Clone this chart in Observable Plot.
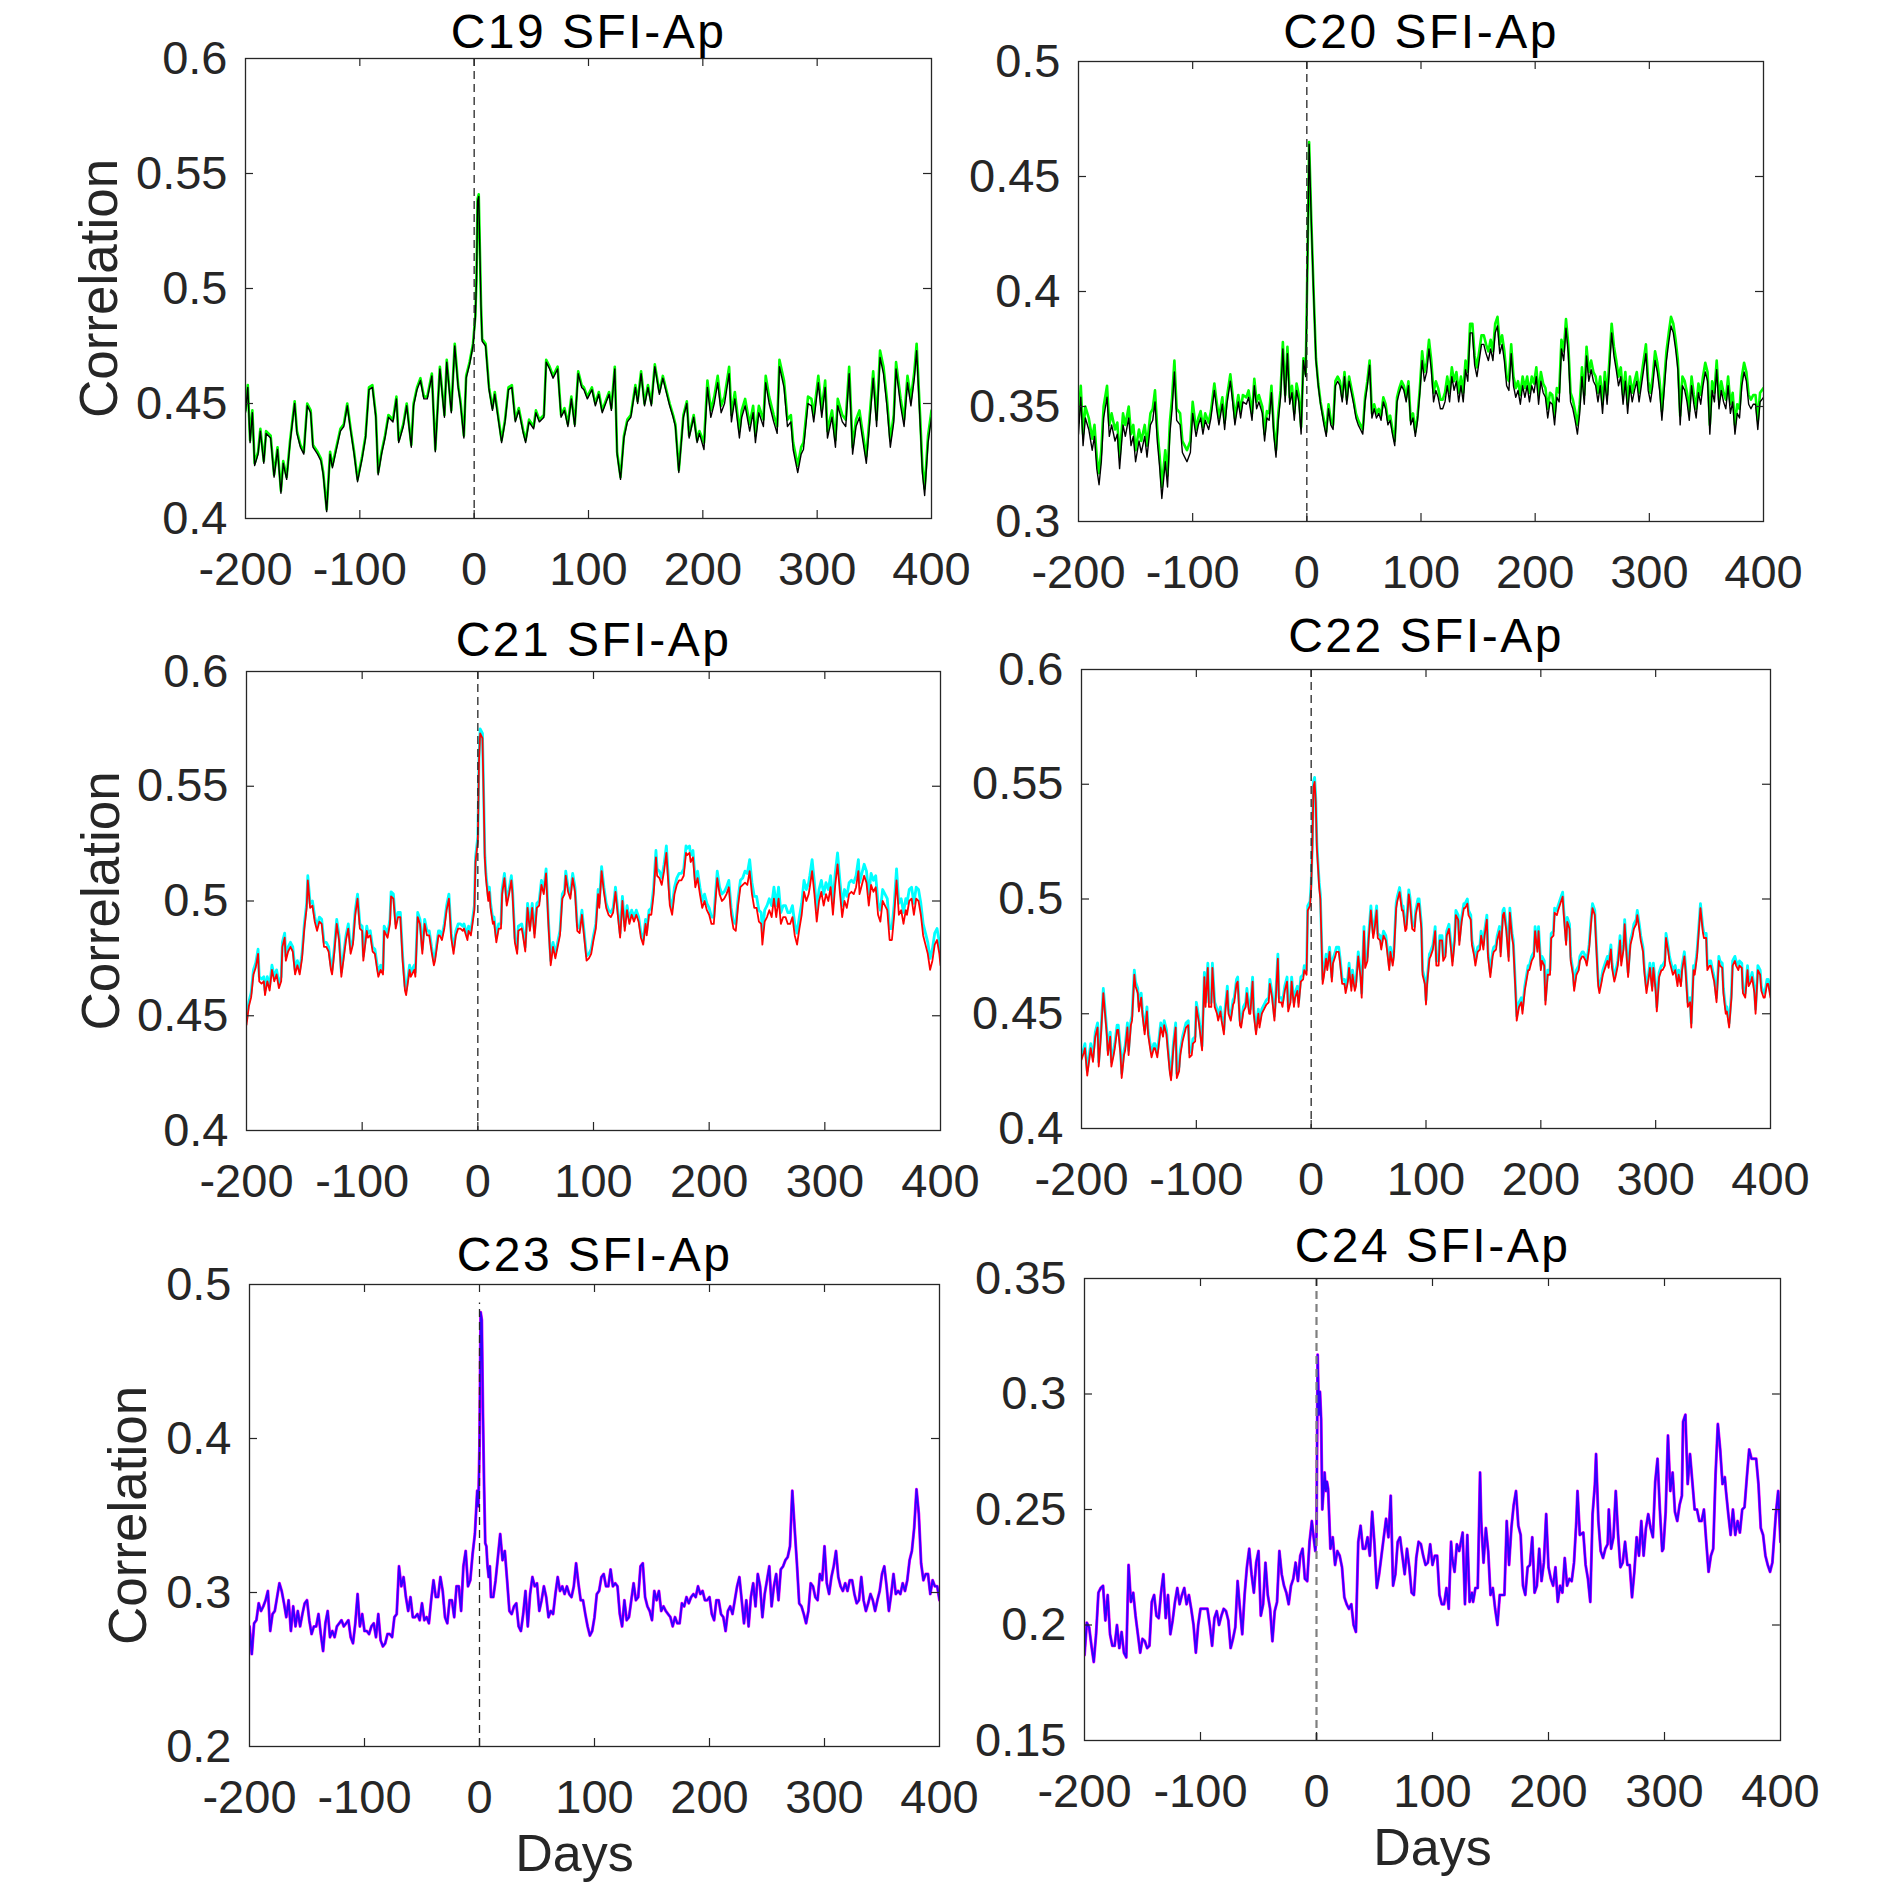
<!DOCTYPE html>
<html><head><meta charset="utf-8">
<script src="https://cdn.jsdelivr.net/npm/d3@7"></script>
<script src="https://cdn.jsdelivr.net/npm/@observablehq/plot@0.6"></script>
<style>
body{margin:0;background:#fff;}
#wrap{position:relative;width:1890px;height:1890px;background:#fff;overflow:hidden;}
#wrap svg{position:absolute;}
</style></head><body><div id="wrap"></div>
<script>
// ---------- tick labels ----------
const xTickValues = [-200,-100,0,100,200,300,400];
const yTicksC19 = [0.4,0.45,0.5,0.55,0.6];
const yTicksC20 = [0.3,0.35,0.4,0.45,0.5];
const yTicksC21 = [0.4,0.45,0.5,0.55,0.6];
const yTicksC22 = [0.4,0.45,0.5,0.55,0.6];
const yTicksC23 = [0.2,0.3,0.4,0.5];
const yTicksC24 = [0.15,0.2,0.25,0.3,0.35];
const titles = ["C19 SFI-Ap","C20 SFI-Ap","C21 SFI-Ap","C22 SFI-Ap","C23 SFI-Ap","C24 SFI-Ap"];

// ---------- C19 ----------
const c19Days = [-200,-198,-196,-194,-192,-189,-187,-184,-182,-178,
-175,-172,-169,-167,-164,-161,-157,-155,-152,-149,
-146,-143,-141,-137,-134,-132,-129,-126,-124,-121,
-117,-114,-111,-108,-105,-102,-98,-95,-92,-89,
-86,-84,-81,-78,-75,-71,-68,-66,-62,-59,
-55,-53,-50,-47,-44,-41,-37,-34,-30,-26,
-24,-20,-17,-14,-12,-9,-7,-4,-1,1,
2,3,4,6,7,10,13,16,18,22,
24,27,30,33,36,39,43,45,48,52,
54,57,61,63,66,69,73,76,79,82,
85,88,91,94,96,99,103,106,109,112,
115,118,120,123,125,128,131,134,137,141,
143,146,149,152,155,158,162,165,167,171,
174,176,179,183,186,188,192,195,197,201,
204,207,210,213,216,219,223,225,228,232,
234,237,241,244,246,249,253,255,258,262,
265,267,271,274,277,279,283,286,288,292,
295,297,301,304,307,309,313,316,318,322,
325,328,331,334,337,339,343,346,349,352,
355,358,361,364,367,369,373,376,379,382,
385,387,390,392,394,397,400];
const c19Black = [.446,.457,.433,.446,.423,.428,.438,.424,.437,.435,
.418,.430,.411,.424,.417,.433,.450,.437,.431,.428,
.449,.446,.431,.428,.425,.419,.403,.428,.422,.429,
.438,.440,.449,.438,.428,.416,.426,.435,.456,.457,
.444,.419,.428,.435,.444,.442,.452,.433,.440,.449,
.431,.449,.456,.460,.452,.452,.462,.429,.465,.444,
.468,.446,.475,.457,.450,.435,.461,.467,.475,.487,
.503,.538,.540,.492,.477,.475,.456,.447,.454,.440,
.433,.442,.456,.457,.442,.447,.437,.433,.442,.439,
.446,.442,.444,.468,.465,.461,.465,.444,.447,.440,
.452,.440,.463,.457,.456,.452,.456,.449,.454,.446,
.450,.454,.447,.465,.428,.417,.435,.442,.444,.457,
.450,.463,.449,.457,.449,.466,.454,.461,.457,.449,
.444,.440,.420,.444,.450,.435,.444,.433,.437,.430,
.457,.444,.450,.459,.446,.450,.463,.442,.452,.435,
.444,.449,.438,.446,.433,.446,.440,.459,.450,.442,
.437,.466,.457,.440,.442,.430,.420,.428,.430,.450,
.449,.442,.459,.444,.457,.435,.444,.431,.449,.442,
.440,.463,.428,.440,.444,.437,.424,.442,.461,.440,
.470,.463,.449,.431,.442,.465,.449,.440,.459,.449,
.461,.473,.442,.420,.410,.433,.444];
const c19Green = [.447,.458,.434,.447,.424,.429,.439,.425,.438,.436,
.419,.431,.412,.425,.418,.434,.451,.438,.432,.429,
.450,.447,.432,.429,.426,.420,.404,.429,.423,.430,
.439,.441,.450,.439,.429,.417,.427,.436,.457,.458,
.445,.420,.429,.436,.445,.443,.453,.434,.441,.450,
.432,.450,.457,.461,.453,.453,.463,.430,.466,.445,
.469,.447,.476,.458,.451,.436,.462,.468,.476,.488,
.504,.539,.541,.493,.478,.476,.457,.448,.455,.441,
.434,.443,.457,.458,.443,.448,.438,.434,.443,.440,
.447,.443,.445,.469,.466,.462,.466,.445,.448,.441,
.453,.441,.464,.458,.457,.453,.457,.450,.455,.447,
.451,.455,.448,.466,.429,.418,.436,.443,.445,.458,
.451,.464,.450,.458,.450,.467,.455,.462,.458,.450,
.445,.441,.421,.445,.451,.436,.445,.434,.438,.433,
.460,.447,.453,.462,.449,.453,.466,.445,.455,.438,
.447,.452,.441,.449,.436,.449,.443,.462,.453,.445,
.440,.469,.460,.443,.445,.433,.423,.431,.433,.453,
.452,.445,.462,.447,.460,.438,.447,.434,.452,.445,
.443,.466,.431,.443,.447,.440,.427,.445,.464,.443,
.473,.466,.452,.434,.445,.468,.452,.443,.462,.452,
.464,.476,.445,.423,.413,.436,.447];

// ---------- C20 ----------
const c20Days = [-200,-198,-196,-194,-191,-188,-186,-184,-182,-180,
-178,-175,-173,-171,-168,-166,-164,-161,-159,-156,
-154,-152,-150,-147,-145,-142,-140,-137,-135,-133,
-131,-129,-127,-124,-122,-120,-118,-116,-114,-111,
-109,-107,-105,-102,-100,-97,-95,-93,-91,-89,
-86,-84,-81,-79,-77,-74,-72,-70,-67,-65,
-63,-60,-58,-56,-53,-51,-48,-46,-44,-42,
-39,-37,-35,-33,-31,-29,-27,-25,-23,-21,
-19,-17,-15,-13,-11,-9,-7,-5,-3,-1,
1,2,4,6,8,10,12,15,17,19,
21,23,25,27,29,31,33,35,37,39,
41,43,45,47,49,51,53,55,57,59,
61,63,65,67,69,71,73,75,77,79,
81,83,85,87,89,91,93,95,97,99,
101,103,105,107,109,111,113,115,117,119,
121,123,125,127,129,131,133,135,137,139,
141,143,145,147,149,151,153,155,157,159,
161,163,165,167,169,171,173,175,177,179,
181,183,185,187,189,191,193,195,197,199,
201,203,205,207,209,211,213,215,217,219,
221,223,225,227,229,231,233,235,237,239,
241,243,245,247,249,251,253,255,257,259,
261,263,265,267,269,271,273,275,277,279,
281,283,285,287,289,291,293,295,297,299,
301,303,305,307,309,311,313,315,317,319,
321,323,325,327,329,331,333,335,337,339,
341,343,345,347,349,351,353,355,357,359,
361,363,365,367,369,371,373,375,377,379,
381,383,385,387,389,391,393,395,397,400];
const c20Black = [.338,.354,.333,.345,.340,.331,.337,.323,.316,.326,
.345,.354,.337,.342,.335,.338,.323,.342,.337,.345,
.333,.337,.326,.335,.330,.337,.328,.342,.344,.352,
.335,.324,.310,.326,.315,.338,.349,.365,.344,.342,
.330,.328,.326,.330,.347,.337,.342,.345,.338,.344,
.340,.345,.357,.349,.342,.351,.340,.351,.361,.352,
.342,.352,.345,.352,.351,.354,.344,.359,.349,.352,
.347,.335,.345,.344,.356,.338,.328,.344,.354,.375,
.352,.373,.351,.356,.344,.357,.352,.338,.370,.363,
.426,.464,.429,.398,.370,.359,.351,.342,.337,.349,
.342,.340,.359,.361,.359,.352,.363,.351,.361,.356,
.351,.345,.342,.340,.338,.352,.359,.368,.345,.349,
.345,.347,.344,.352,.349,.342,.344,.338,.333,.352,
.356,.359,.357,.352,.359,.342,.345,.337,.344,.356,
.370,.361,.365,.375,.366,.352,.357,.354,.349,.349,
.352,.359,.352,.363,.357,.361,.352,.359,.352,.366,
.361,.382,.382,.368,.363,.370,.377,.377,.373,.370,
.375,.370,.382,.385,.373,.377,.370,.359,.357,.373,
.359,.354,.357,.351,.359,.354,.359,.352,.359,.356,
.363,.351,.361,.356,.354,.345,.352,.351,.342,.354,
.352,.375,.370,.384,.373,.352,.349,.344,.338,.347,
.363,.351,.372,.361,.366,.361,.359,.352,.359,.347,
.361,.351,.366,.382,.372,.366,.359,.363,.351,.361,
.347,.359,.352,.357,.361,.352,.359,.366,.373,.357,
.352,.359,.370,.365,.357,.344,.357,.370,.378,.385,
.382,.375,.366,.342,.359,.357,.352,.344,.359,.351,
.345,.356,.351,.359,.365,.361,.338,.357,.352,.366,
.349,.357,.352,.349,.359,.347,.352,.338,.347,.345,
.359,.365,.361,.351,.349,.351,.351,.340,.352,.354];
const c20Green = [.343,.359,.338,.350,.345,.336,.342,.328,.321,.331,
.350,.359,.342,.347,.340,.343,.328,.347,.342,.350,
.338,.342,.331,.340,.335,.342,.333,.347,.349,.357,
.340,.329,.315,.331,.320,.343,.354,.370,.349,.347,
.335,.333,.331,.335,.352,.340,.345,.348,.341,.347,
.343,.348,.360,.352,.345,.354,.343,.354,.364,.355,
.345,.355,.348,.355,.354,.357,.347,.362,.352,.355,
.350,.338,.348,.347,.359,.341,.331,.347,.357,.378,
.355,.376,.354,.359,.347,.360,.355,.341,.371,.364,
.427,.465,.430,.399,.371,.360,.352,.344,.339,.351,
.344,.342,.361,.363,.361,.354,.365,.353,.363,.358,
.353,.347,.344,.342,.340,.354,.361,.370,.347,.351,
.347,.349,.346,.354,.351,.344,.346,.340,.335,.354,
.358,.361,.359,.354,.361,.344,.347,.339,.346,.358,
.374,.365,.369,.379,.370,.356,.361,.358,.353,.353,
.356,.363,.356,.367,.361,.365,.356,.363,.356,.370,
.365,.386,.386,.372,.367,.374,.381,.381,.377,.374,
.379,.374,.386,.389,.377,.381,.374,.363,.361,.377,
.363,.358,.361,.355,.363,.358,.363,.356,.363,.360,
.367,.355,.365,.360,.358,.349,.356,.355,.346,.358,
.356,.379,.374,.388,.377,.356,.353,.348,.342,.351,
.367,.355,.376,.365,.370,.365,.363,.356,.363,.351,
.365,.355,.370,.386,.376,.370,.363,.367,.355,.365,
.351,.363,.356,.361,.365,.356,.363,.370,.377,.361,
.356,.363,.374,.369,.361,.348,.361,.374,.382,.389,
.386,.379,.370,.346,.363,.361,.356,.348,.363,.355,
.349,.360,.355,.363,.369,.365,.342,.361,.356,.370,
.353,.361,.356,.353,.363,.351,.356,.342,.351,.349,
.363,.369,.365,.355,.353,.355,.355,.344,.356,.358];

// ---------- C21 ----------
const c21Days = [-200,-198,-196,-194,-192,-190,-189,-187,-185,-184,
-182,-180,-178,-176,-174,-172,-170,-169,-167,-166,
-164,-162,-160,-158,-156,-154,-152,-150,-148,-147,
-145,-143,-141,-139,-137,-135,-133,-131,-129,-127,
-126,-124,-122,-120,-118,-116,-114,-112,-110,-108,
-106,-104,-102,-100,-99,-96,-95,-93,-91,-89,
-87,-86,-84,-82,-81,-78,-76,-75,-73,-71,
-69,-67,-65,-63,-62,-59,-58,-55,-54,-52,
-50,-48,-46,-44,-42,-40,-38,-37,-34,-33,
-31,-29,-27,-25,-23,-21,-19,-17,-15,-13,
-12,-9,-8,-6,
-3,-2,0,1,2,4,5,6,7,9,
10,11,13,14,16,18,20,21,23,25,
27,29,30,32,34,35,38,39,41,43,
45,47,49,51,53,55,57,59,61,63,
65,67,69,71,73,75,76,78,80,82,
84,86,88,90,92,94,96,98,100,102,
104,105,107,109,111,113,115,117,119,121,
123,125,127,129,131,133,135,137,139,141,
143,145,146,148,150,152,154,155,157,159,
161,163,164,166,168,170,172,174,176,178,
180,181,183,184,186,188,190,192,194,196,
198,200,202,204,205,207,209,211,213,215,
217,219,221,223,225,227,229,231,233,235,
237,239,241,243,245,246,248,250,252,254,
256,258,260,262,264,266,268,270,272,274,
276,278,280,282,284,286,287,289,291,293,
295,297,299,301,303,305,307,309,311,313,
315,317,319,321,323,325,327,329,330,332,
334,336,338,340,342,344,346,348,350,352,
354,356,358,360,362,364,366,368,370,371,
373,375,377,379,381,383,385,387,389,391,
393,395,397,399,400];
const c21Red = [.446,.454,.458,.468,.471,.477,.465,.464,.465,.459,
.465,.461,.470,.465,.468,.462,.465,.480,.484,.474,
.478,.480,.478,.468,.472,.468,.475,.488,.497,.509,
.497,.498,.491,.487,.491,.490,.480,.480,.478,.470,
.468,.478,.490,.483,.467,.475,.483,.488,.477,.481,
.494,.501,.488,.487,.474,.487,.484,.485,.478,.477,
.470,.467,.470,.468,.487,.484,.490,.502,.501,.488,
.493,.493,.474,.461,.459,.470,.467,.470,.467,.493,
.490,.477,.490,.485,.485,.478,.472,.474,.485,.485,
.483,.488,.496,.501,.484,.477,.485,.488,.488,.487,
.488,.483,.487,.485,
.496,.517,.526,.561,.573,.571,.546,.519,.510,.500,
.504,.497,.490,.491,.482,.488,.488,.503,.510,.498,
.503,.509,.503,.482,.477,.487,.488,.485,.478,.497,
.487,.497,.484,.497,.498,.507,.503,.512,.490,.472,
.480,.475,.480,.485,.501,.503,.511,.504,.501,.510,
.504,.487,.486,.494,.484,.474,.475,.477,.483,.488,
.503,.497,.513,.504,.497,.494,.493,.495,.504,.494,
.484,.500,.487,.496,.490,.494,.491,.494,.491,.484,
.481,.490,.485,.494,.494,.503,.519,.511,.510,.507,
.513,.521,.513,.498,.494,.503,.507,.509,.509,.511,
.521,.520,.521,.517,.519,.506,.510,.503,.497,.500,
.496,.494,.490,.490,.497,.510,.503,.500,.501,.503,
.506,.494,.488,.487,.498,.506,.507,.508,.507,.513,
.503,.497,.497,.491,.490,.481,.491,.493,.496,.493,
.501,.493,.501,.490,.493,.493,.490,.490,.493,.485,
.481,.488,.494,.504,.500,.503,.506,.513,.503,.491,
.500,.504,.498,.503,.500,.506,.494,.507,.516,.504,
.493,.500,.497,.503,.504,.503,.506,.513,.503,.507,
.511,.508,.498,.507,.504,.506,.494,.491,.500,.498,
.496,.483,.483,.494,.509,.494,.496,.490,.496,.494,
.500,.501,.494,.501,.500,.494,.485,.481,.477,.470,
.474,.481,.483,.477,.472];
const c21Cyan = [.448,.456,.460,.470,.473,.479,.467,.466,.467,.461,
.467,.463,.472,.467,.470,.464,.467,.482,.486,.476,
.480,.482,.480,.470,.474,.470,.477,.490,.499,.511,
.499,.500,.493,.489,.493,.492,.482,.482,.480,.472,
.470,.480,.492,.485,.469,.477,.485,.490,.479,.483,
.496,.503,.490,.489,.476,.489,.486,.487,.480,.479,
.472,.469,.472,.470,.489,.486,.492,.504,.503,.490,
.495,.495,.476,.463,.461,.472,.469,.472,.469,.495,
.492,.479,.492,.487,.487,.480,.474,.476,.487,.487,
.485,.490,.498,.503,.486,.479,.487,.490,.490,.489,
.490,.485,.489,.487,
.498,.519,.528,.563,.575,.573,.548,.521,.512,.502,
.506,.499,.492,.493,.484,.490,.490,.505,.512,.500,
.505,.511,.505,.484,.479,.489,.490,.487,.480,.499,
.489,.499,.486,.499,.500,.509,.505,.514,.492,.474,
.482,.477,.482,.487,.503,.505,.513,.506,.503,.512,
.506,.489,.488,.496,.486,.476,.477,.479,.485,.490,
.505,.499,.515,.506,.499,.496,.495,.497,.506,.496,
.486,.502,.489,.498,.492,.496,.493,.496,.493,.486,
.483,.492,.487,.496,.497,.506,.522,.514,.513,.510,
.516,.524,.516,.501,.497,.506,.510,.512,.512,.514,
.524,.523,.524,.520,.522,.509,.513,.506,.500,.503,
.499,.497,.493,.493,.500,.513,.506,.503,.504,.506,
.509,.497,.491,.490,.501,.509,.510,.513,.512,.518,
.508,.502,.502,.496,.495,.486,.496,.498,.501,.498,
.506,.498,.506,.495,.498,.498,.495,.495,.498,.490,
.486,.493,.499,.509,.505,.508,.511,.518,.508,.496,
.505,.509,.503,.508,.505,.511,.499,.512,.521,.509,
.498,.505,.502,.508,.509,.508,.511,.518,.508,.512,
.516,.513,.503,.512,.509,.511,.499,.496,.505,.503,
.501,.488,.488,.499,.514,.499,.501,.495,.501,.499,
.505,.506,.499,.506,.505,.499,.490,.486,.482,.475,
.479,.486,.488,.482,.477];

// ---------- C22 ----------
const c22Days = [-200,-198,-197,-195,-194,-192,-190,-188,-186,-185,
-183,-181,-180,-178,-177,-175,-174,-172,-171,-169,
-168,-166,-165,-163,-162,-160,-159,-157,-156,-154,
-153,-151,-150,-148,-147,-145,-143,-142,-140,-139,
-137,-136,-134,-133,-131,-129,-128,-126,-125,-123,
-122,-120,-118,-117,-115,-114,-112,-111,-109,-107,
-106,-104,-103,-101,-100,-98,-97,-95,-93,-92,
-90,-89,-87,-86,-84,-82,-81,-79,-78,-76,
-75,-73,-72,-70,-68,-67,-65,-64,-62,-61,
-59,-57,-56,-54,-53,-51,-50,-48,-46,-45,
-43,-42,-40,-39,-37,-36,-34,-32,-31,-29,
-28,-26,-25,-23,-21,-20,-18,-17,-15,-14,
-12,-11,-9,-7,-6,-4,-3,-1,0,1,
2,3,4,5,7,8,9,10,11,13,
14,16,18,19,21,22,24,25,27,29,
30,32,33,35,36,38,39,41,43,44,
46,47,49,50,52,54,55,57,58,60,
61,63,65,66,68,69,71,72,74,75,
77,79,80,82,83,85,86,88,90,91,
93,94,96,97,99,100,101,103,104,106,
108,109,111,112,114,115,117,118,120,122,
123,125,126,128,129,131,133,134,136,137,
139,140,142,143,145,147,148,150,151,153,
154,156,158,159,161,162,164,165,167,168,
170,172,173,175,176,178,179,181,183,184,
186,187,189,190,192,194,195,197,198,200,
201,203,204,206,208,209,211,212,214,215,
217,219,220,222,223,225,226,228,229,231,
233,234,236,237,239,240,242,244,245,247,
248,250,251,253,254,256,258,259,261,262,
264,265,267,269,270,272,273,275,276,278,
280,281,283,284,286,287,289,290,292,294,
295,297,298,300,301,303,305,306,308,309,
311,312,314,315,317,319,320,322,323,325,
326,328,330,331,333,334,336,337,339,341,
342,344,345,347,348,350,351,353,355,356,
358,359,361,362,364,366,367,369,370,372,
373,375,376,378,380,381,383,384,386,387,
389,391,392,394,395,397,398,400];
const c22Red = [.430,.433,.435,.423,.427,.435,.429,.440,.444,.427,
.441,.459,.453,.441,.432,.440,.427,.432,.435,.443,
.443,.432,.422,.432,.434,.444,.432,.445,.447,.467,
.462,.459,.451,.457,.450,.441,.451,.441,.434,.431,
.435,.435,.431,.435,.444,.440,.445,.441,.435,.424,
.421,.435,.444,.422,.425,.432,.438,.440,.444,.445,
.431,.432,.437,.438,.453,.447,.443,.434,.466,.453,
.470,.453,.453,.470,.453,.450,.447,.451,.447,.441,
.450,.460,.450,.447,.454,.455,.463,.464,.445,.444,
.451,.453,.459,.450,.450,.464,.450,.441,.450,.444,
.450,.451,.453,.454,.455,.463,.457,.447,.455,.474,
.455,.455,.453,.460,.464,.451,.455,.464,.453,.457,
.460,.453,.464,.465,.469,.467,.495,.497,.505,.522,
.549,.551,.542,.522,.505,.500,.482,.463,.466,.474,
.469,.477,.464,.472,.475,.477,.477,.473,.463,.463,
.459,.464,.470,.460,.467,.460,.462,.475,.466,.457,
.486,.470,.473,.482,.495,.483,.486,.495,.483,.482,
.478,.484,.482,.478,.469,.477,.471,.475,.496,.499,
.503,.495,.495,.486,.487,.502,.499,.487,.486,.493,
.498,.498,.487,.467,.463,.454,.463,.474,.475,.478,
.486,.471,.471,.482,.482,.473,.475,.484,.487,.477,
.471,.482,.493,.491,.480,.490,.496,.496,.498,.493,
.491,.480,.475,.471,.477,.478,.484,.478,.484,.491,
.475,.466,.475,.477,.478,.482,.486,.475,.493,.494,
.486,.473,.494,.483,.480,.459,.447,.453,.455,.450,
.460,.463,.469,.469,.473,.475,.486,.477,.486,.469,
.473,.471,.454,.467,.467,.483,.484,.494,.493,.495,
.498,.501,.493,.480,.490,.487,.473,.467,.460,.467,
.469,.473,.475,.475,.473,.471,.478,.491,.496,.493,
.482,.462,.459,.464,.467,.470,.473,.470,.478,.470,
.464,.466,.471,.482,.471,.478,.489,.473,.466,.480,
.484,.487,.489,.493,.486,.482,.477,.469,.459,.466,
.470,.460,.470,.460,.451,.466,.469,.469,.471,.483,
.477,.473,.469,.467,.469,.462,.467,.462,.469,.475,
.469,.453,.455,.444,.469,.467,.475,.482,.496,.486,
.483,.483,.469,.471,.471,.466,.464,.455,.473,.471,
.470,.459,.450,.451,.444,.457,.471,.473,.471,.469,
.471,.470,.459,.457,.469,.462,.464,.466,.459,.450,
.469,.467,.460,.457,.457,.463,.463,.457];
const c22Cyan = [.432,.435,.437,.425,.429,.437,.431,.442,.446,.429,
.443,.461,.455,.443,.434,.442,.429,.434,.437,.445,
.445,.434,.424,.434,.436,.446,.434,.447,.449,.469,
.464,.461,.453,.459,.452,.443,.453,.443,.436,.433,
.437,.437,.433,.437,.446,.442,.447,.443,.437,.426,
.423,.437,.446,.424,.427,.434,.440,.442,.446,.447,
.433,.434,.439,.440,.455,.449,.445,.436,.468,.455,
.472,.455,.455,.472,.455,.452,.449,.453,.449,.443,
.452,.462,.452,.449,.456,.457,.465,.466,.447,.446,
.453,.455,.461,.452,.452,.466,.452,.443,.452,.446,
.452,.453,.455,.456,.457,.465,.459,.449,.457,.476,
.457,.457,.455,.462,.466,.453,.457,.466,.455,.459,
.462,.455,.466,.467,.471,.469,.497,.499,.507,.524,
.551,.553,.544,.524,.507,.502,.484,.465,.468,.476,
.471,.479,.466,.474,.477,.479,.479,.475,.465,.465,
.461,.466,.472,.462,.469,.462,.464,.477,.468,.459,
.488,.472,.475,.484,.497,.485,.488,.497,.485,.484,
.480,.486,.484,.480,.471,.479,.473,.477,.498,.501,
.505,.497,.497,.488,.489,.504,.501,.489,.488,.495,
.500,.500,.489,.469,.465,.456,.465,.476,.477,.480,
.488,.473,.473,.484,.484,.475,.477,.486,.489,.479,
.473,.484,.495,.493,.482,.492,.498,.498,.500,.495,
.493,.482,.477,.473,.479,.480,.486,.480,.486,.493,
.477,.468,.477,.479,.480,.484,.488,.477,.495,.496,
.488,.475,.496,.485,.482,.461,.449,.455,.457,.452,
.462,.465,.471,.471,.475,.477,.488,.479,.488,.471,
.475,.473,.456,.469,.469,.485,.486,.496,.495,.497,
.500,.503,.495,.482,.492,.489,.475,.469,.462,.469,
.471,.475,.477,.477,.475,.473,.480,.493,.498,.495,
.484,.464,.461,.466,.469,.472,.475,.472,.480,.472,
.466,.468,.473,.484,.473,.480,.491,.475,.468,.482,
.486,.489,.491,.495,.488,.484,.479,.471,.461,.468,
.472,.462,.472,.462,.453,.468,.471,.471,.473,.485,
.479,.475,.471,.469,.471,.464,.469,.464,.471,.477,
.471,.455,.457,.446,.471,.469,.477,.484,.498,.488,
.485,.485,.471,.473,.473,.468,.466,.457,.475,.473,
.472,.461,.452,.453,.446,.459,.473,.475,.473,.471,
.473,.472,.461,.459,.471,.464,.466,.468,.461,.452,
.471,.469,.462,.459,.459,.465,.465,.459];

// ---------- C23 ----------
const c23Days = [-200,-198,-196,-194,-192,-190,-188,-186,-184,-182,
-180,-178,-176,-174,-172,-170,-168,-166,-164,-162,
-160,-158,-156,-154,-152,-150,-148,-146,-144,-142,
-140,-138,-136,-134,-132,-130,-128,-126,-124,-122,
-120,-118,-116,-114,-112,-110,-108,-106,-104,-102,
-100,-98,-96,-94,-92,-90,-88,-86,-84,-82,
-80,-78,-76,-74,-72,-70,-68,-66,-64,-62,
-60,-58,-56,-54,-52,-50,-48,-46,-44,-42,
-40,-38,-36,-34,-32,-30,-28,-26,-24,-22,
-20,-18,-16,-14,-12,-10,-8,-6,-4,-2,
-1,0,1,2,3,4,5,6,7,8,9,10,
12,14,16,18,20,22,24,26,28,30,
32,34,36,38,40,42,44,46,48,50,
52,54,56,58,60,62,64,66,68,70,
72,74,76,78,80,82,84,86,88,90,
92,94,96,98,100,102,104,106,108,110,
112,114,116,118,120,122,124,126,128,130,
132,134,136,138,140,142,144,146,148,150,
152,154,156,158,160,162,164,166,168,170,
172,174,176,178,180,182,184,186,188,190,
192,194,196,198,200,202,204,206,208,210,
212,214,216,218,220,222,224,226,228,230,
232,234,236,238,240,242,244,246,248,250,
252,254,256,258,260,262,264,266,268,270,
272,274,276,278,280,282,284,286,288,290,
292,294,296,298,300,302,304,306,308,310,
312,314,316,318,320,322,324,326,328,330,
332,334,336,338,340,342,344,346,348,350,
352,354,356,358,360,362,364,366,368,370,
372,374,376,378,380,382,384,386,388,390,
392,394,396,398,400];
const c23Blue = [.278,.260,.280,.282,.293,.288,.291,.295,.301,.275,
.286,.288,.297,.306,.301,.293,.284,.295,.275,.291,
.278,.288,.278,.286,.293,.295,.282,.273,.278,.278,
.286,.273,.262,.280,.288,.271,.275,.271,.278,.280,
.282,.278,.280,.282,.271,.267,.280,.299,.278,.286,
.275,.275,.273,.278,.280,.271,.286,.269,.265,.267,
.273,.273,.271,.284,.286,.317,.304,.310,.297,.288,
.297,.284,.284,.286,.282,.293,.282,.284,.280,.295,
.308,.297,.297,.310,.301,.284,.280,.295,.295,.284,
.304,.304,.288,.317,.327,.304,.308,.325,.338,.366,
.356,.395,.482,.477,.416,.369,.332,.330,.317,.310,.317,.297,
.297,.308,.323,.338,.321,.327,.308,.288,.286,.291,
.293,.278,.275,.286,.301,.278,.299,.310,.304,.306,
.288,.295,.304,.297,.284,.288,.286,.299,.310,.301,
.304,.299,.304,.299,.297,.304,.319,.306,.295,.295,
.286,.278,.272,.275,.284,.299,.301,.310,.312,.304,
.304,.315,.304,.306,.304,.286,.278,.295,.282,.284,
.295,.306,.295,.297,.317,.319,.297,.291,.288,.282,
.301,.295,.301,.288,.291,.288,.286,.284,.278,.284,
.280,.280,.293,.291,.297,.293,.297,.299,.297,.304,
.299,.301,.295,.295,.297,.286,.282,.295,.295,.286,
.284,.275,.288,.291,.286,.295,.304,.310,.295,.280,
.295,.278,.297,.306,.291,.312,.304,.284,.299,.308,
.317,.291,.304,.312,.295,.315,.317,.321,.323,.330,
.366,.342,.319,.293,.291,.286,.280,.288,.306,.304,
.297,.295,.312,.308,.330,.306,.299,.310,.317,.327,
.310,.304,.301,.306,.301,.308,.308,.299,.293,.295,
.310,.295,.288,.293,.299,.295,.288,.295,.301,.312,
.317,.304,.288,.299,.312,.299,.301,.299,.306,.301,
.308,.321,.327,.342,.367,.351,.319,.308,.312,.312,
.299,.308,.304,.304,.295];
// the magenta curve coincides with the blue one at this reading precision
const c23Magenta = c23Blue;

// ---------- C24 ----------
const c24Days = [-200,-198,-196,-194,-192,-190,-188,-186,-184,-182,
-180,-178,-176,-174,-172,-170,-168,-166,-164,-162,
-160,-158,-156,-154,-152,-150,-148,-146,-144,-142,
-140,-138,-136,-134,-132,-130,-128,-126,-124,-122,
-120,-118,-116,-114,-112,-110,-108,-106,-104,-102,
-100,-98,-96,-94,-92,-90,-88,-86,-84,-82,
-80,-78,-76,-74,-72,-70,-68,-66,-64,-62,
-60,-58,-56,-54,-52,-50,-48,-46,-44,-42,
-40,-38,-36,-34,-32,-30,-28,-26,-24,-22,
-20,-18,-16,-14,-12,-10,-8,-6,-4,-2,
-1,0,1,2,3,4,5,6,7,8,9,10,
12,14,16,18,20,22,24,26,28,30,
32,34,36,38,40,42,44,46,48,50,
52,54,56,58,60,62,64,66,68,70,
72,74,76,78,80,82,84,86,88,90,
92,94,96,98,100,
102,104,106,108,110,112,114,116,117,119,
121,123,126,128,130,132,134,135,137,139,
141,142,144,146,148,150,152,154,156,158,
160,162,164,166,168,170,172,174,176,178,
180,182,184,186,188,190,192,194,196,198,
200,202,204,206,208,210,212,214,216,218,
220,222,224,225,227,230,232,234,236,238,
240,241,243,245,247,249,251,252,254,256,
258,260,262,264,266,268,270,272,274,276,
278,280,282,284,286,288,290,292,294,296,
298,299,301,303,305,307,309,311,313,315,
316,318,320,322,324,326,328,330,332,334,
336,338,340,342,344,346,348,350,352,353,
355,357,359,361,363,365,367,369,371,373,
375,377,379,381,383,385,387,389,391,393,
396,398,400];
const c24Blue = [.187,.201,.199,.191,.184,.196,.214,.216,.217,.202,
.213,.196,.191,.191,.200,.190,.197,.188,.186,.226,
.210,.214,.204,.196,.188,.194,.193,.190,.191,.210,
.213,.204,.203,.214,.222,.203,.213,.196,.202,.210,
.216,.209,.213,.216,.209,.213,.207,.200,.188,.200,
.207,.207,.207,.207,.200,.191,.203,.206,.200,.204,
.207,.206,.202,.190,.194,.199,.219,.207,.196,.213,
.225,.233,.222,.214,.227,.232,.204,.209,.227,.213,
.207,.193,.206,.210,.232,.222,.217,.214,.209,.217,
.220,.227,.219,.230,.233,.220,.219,.236,.245,.236,
.232,.239,.317,.291,.301,.289,.250,.258,.266,.258,.262,.259,
.233,.238,.226,.232,.230,.225,.212,.209,.207,.209,
.200,.197,.236,.243,.233,.233,.238,.230,.249,.235,
.216,.222,.230,.238,.246,.238,.256,.217,.222,.236,
.238,.230,.222,.233,.225,.214,.213,.229,.236,.235,
.230,.226,.227,.235,.226,
.230,.230,.213,.209,.209,.216,.207,.236,.229,.223,
.235,.232,.240,.209,.239,.210,.214,.210,.216,.216,
.266,.245,.227,.242,.232,.213,.216,.207,.200,.213,
.213,.213,.245,.226,.242,.252,.258,.243,.239,.217,
.213,.225,.226,.238,.214,.217,.233,.219,.227,.248,
.225,.220,.217,.225,.210,.217,.214,.229,.217,.220,
.219,.227,.245,.258,.239,.240,.226,.220,.210,.248,
.261,.274,.245,.232,.229,.233,.235,.250,.233,.238,
.258,.239,.225,.227,.236,.226,.226,.212,.223,.238,
.230,.245,.230,.242,.248,.242,.238,.262,.272,.250,
.232,.233,.249,.282,.258,.266,.249,.245,.252,.256,
.288,.291,.261,.274,.262,.250,.250,.245,.245,.250,
.236,.223,.230,.233,.265,.287,.276,.261,.264,.258,
.248,.239,.250,.239,.245,.240,.250,.251,.264,.276,
.272,.272,.272,.261,.242,.239,.230,.226,.223,.227,
.248,.258,.236];
// the magenta curve coincides with the blue one at this reading precision
const c24Magenta = c24Blue;

// ---------- drawing ----------
const FONT = '"Liberation Sans", Arial, Helvetica, sans-serif';
const AX = "#262626";
const fmtX = d => (d < 0 ? "-" : "") + Math.abs(d);
const fmtY = d => String(+(+d).toFixed(2));

const panels = [
  {title: titles[0], frame:[245,58,931,518], yDomain:[0.4,0.6], yTicks:yTicksC19, days:c19Days, top:c19Black, under:c19Green,
   topColor:"#000000", underColor:"#00ff00", topW:1.4, underW:2.6, titleDy:-11, ylabelX:116, dash:null, dashColor:AX, dashW:1.3, days_label:null},
  {title: titles[1], frame:[1078,61,1763,521], yDomain:[0.3,0.5], yTicks:yTicksC20, days:c20Days, top:c20Black, under:c20Green,
   topColor:"#000000", underColor:"#00ff00", topW:1.4, underW:2.6, titleDy:-14, ylabelX:null, dash:null, dashColor:AX, dashW:1.3, days_label:null},
  {title: titles[2], frame:[246,671,940,1130], yDomain:[0.4,0.6], yTicks:yTicksC21, days:c21Days, top:c21Red, under:c21Cyan,
   topColor:"#ff0000", underColor:"#00ffff", topW:1.8, underW:2.8, titleDy:-16, ylabelX:118, dash:null, dashColor:AX, dashW:1.3, days_label:null},
  {title: titles[3], frame:[1081,669,1770,1128], yDomain:[0.4,0.6], yTicks:yTicksC22, days:c22Days, top:c22Red, under:c22Cyan,
   topColor:"#ff0000", underColor:"#00ffff", topW:1.8, underW:2.8, titleDy:-18, ylabelX:null, dash:null, dashColor:AX, dashW:1.3, days_label:null},
  {title: titles[4], frame:[249,1284,939,1746], yDomain:[0.2,0.5], yTicks:yTicksC23, days:c23Days, top:c23Blue, under:c23Magenta,
   topColor:"#3300ff", underColor:"#ff00ff", topW:2.0, underW:3.0, titleDy:-14, ylabelX:145, dash:[0.2,0.488], dashColor:AX, dashW:1.3, days_label:{dx:-20, baseline:1870}},
  {title: titles[5], frame:[1084,1278,1780,1740], yDomain:[0.15,0.35], yTicks:yTicksC24, days:c24Days, top:c24Blue, under:c24Magenta,
   topColor:"#3300ff", underColor:"#ff00ff", topW:2.0, underW:3.0, titleDy:-17, ylabelX:null, dash:null, dashColor:"#7f7f7f", dashW:2.2, days_label:{dx:0, baseline:1864}}
];

const wrap = document.getElementById("wrap");
const xInner = [-100,0,100,200,300];

for (const p of panels) {
  const [L,T,R,B] = p.frame;
  const W = R - L, H = B - T;
  const mL = 200, mT = 90, mR = 60, mB = 150;
  const n = Math.min(p.days.length, p.top.length, p.under.length);
  if (p.days.length !== p.top.length || p.days.length !== p.under.length)
    console.warn("length mismatch", p.title, p.days.length, p.top.length, p.under.length);
  const rows = d3.range(n).map(i => ({day: p.days[i], top: p.top[i], under: p.under[i]}));
  const innerY = p.yTicks.slice(1, -1);
  const marks = [
    Plot.line(rows, {x:"day", y:"under", stroke:p.underColor, strokeWidth:p.underW, clip:true}),
    Plot.line(rows, {x:"day", y:"top", stroke:p.topColor, strokeWidth:p.topW, clip:true}),
    p.dash ? Plot.ruleX([0], {y1:p.dash[0], y2:p.dash[1], stroke:p.dashColor, strokeWidth:p.dashW, strokeDasharray:"8,5"})
           : Plot.ruleX([0], {stroke:p.dashColor, strokeWidth:p.dashW, strokeDasharray:"8,5"}),
    Plot.ruleX(xInner, {stroke:AX, strokeWidth:1.2, insetTop:H-8}),
    Plot.ruleX(xInner, {stroke:AX, strokeWidth:1.2, insetBottom:H-8}),
    Plot.ruleY(innerY, {stroke:AX, strokeWidth:1.2, insetRight:W-8}),
    Plot.ruleY(innerY, {stroke:AX, strokeWidth:1.2, insetLeft:W-8}),
    Plot.frame({stroke:AX, strokeWidth:1.3}),
    Plot.axisX({ticks:xTickValues, tickSize:0, tickPadding:33, tickFormat:fmtX, fontSize:47, color:AX, label:null}),
    Plot.axisY({ticks:p.yTicks, tickSize:0, tickPadding:18, tickFormat:fmtY, fontSize:47, color:AX, label:null}),
    Plot.text([p.title], {text:d=>d, frameAnchor:"top", textAnchor:"middle", lineAnchor:"bottom", dy:p.titleDy, fontSize:48, fill:"#000000"})
  ];
  if (p.ylabelX != null)
    marks.push(Plot.text(["Correlation"], {text:d=>d, frameAnchor:"left", textAnchor:"middle", rotate:-90, lineAnchor:"bottom", dx:p.ylabelX - L, fontSize:53, fill:AX}));
  if (p.days_label)
    marks.push(Plot.text(["Days"], {text:d=>d, frameAnchor:"bottom", textAnchor:"middle", lineAnchor:"bottom", dx:p.days_label.dx, dy:p.days_label.baseline - B, fontSize:52, fill:AX}));
  const svg = Plot.plot({
    width: W + mL + mR, height: H + mT + mB,
    marginLeft: mL, marginTop: mT, marginRight: mR, marginBottom: mB,
    style: {background:"transparent", overflow:"visible", fontFamily:FONT, maxWidth:"none"},
    x: {domain:[-200,400]},
    y: {domain:p.yDomain},
    marks
  });
  // the reference's titles are set a little wider than the plain font
  d3.select(svg).selectAll("text").filter(function() { return this.textContent === p.title; })
    .attr("letter-spacing", "2.5px");
  svg.style.position = "absolute";
  svg.style.left = (L - mL) + "px";
  svg.style.top = (T - mT) + "px";
  wrap.appendChild(svg);
}
</script></body></html>
